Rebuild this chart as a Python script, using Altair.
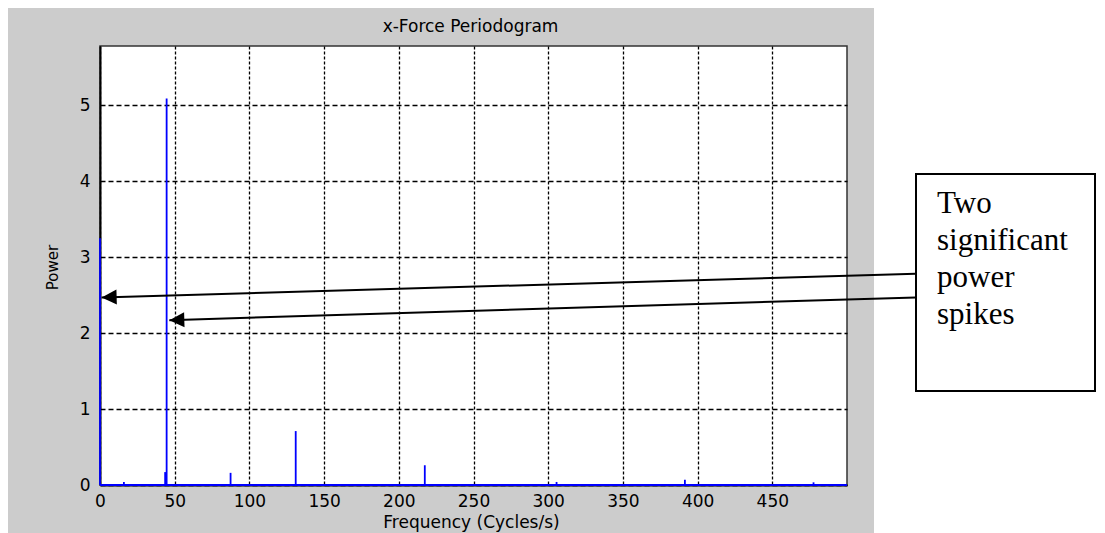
import altair as alt
import pandas as pd

# ---- data ----
freq_hz = [0, 16, 43.6, 44.6, 87.4, 131, 217.4, 305.6, 391.5, 477.6]
power = [3.25, 0.04, 0.17, 5.09, 0.16, 0.71, 0.26, 0.04, 0.07, 0.035]
baseline_freq = [0, 500]
x_ticks = [0, 50, 100, 150, 200, 250, 300, 350, 400, 450]
y_ticks = [0, 1, 2, 3, 4, 5]
arrow_tip_freq = [1.1, 46.4]
arrow_tip_power = [2.47, 2.17]
arrow_tail_freq = [546, 546]
arrow_tail_power = [2.78, 2.47]
note_lines = ["Two", "significant", "power", "spikes"]
chart_title = "x-Force Periodogram"

W, H = 747, 439
FONT = "DejaVu Sans"

spikes = pd.DataFrame({"freq": freq_hz, "power": power})
base = pd.DataFrame({"freq": [baseline_freq[0]], "freq2": [baseline_freq[1]]})
arrows = pd.DataFrame({"freq": arrow_tip_freq, "power": arrow_tip_power,
                       "freq2": arrow_tail_freq, "power2": arrow_tail_power})

xs = alt.Scale(domain=[0, 500], nice=False, zero=False)
ys = alt.Scale(domain=[0, 5.78], nice=False, zero=False)

x_axis = alt.Axis(title="Frequency (Cycles/s)", values=x_ticks, format="d",
                  grid=True, gridColor="black", gridDash=[3, 2], gridWidth=1.3, gridOpacity=1,
                  ticks=False, labelPadding=8, labelFont=FONT, labelFontSize=17,
                  labelColor="black", domainColor="black", domainWidth=2,
                  titleFont=FONT, titleFontSize=17, titleFontWeight="normal", titleColor="black",
                  titleX=371, titleY=37, titleBaseline="middle", titleAlign="center",
                  labelFlush=False)
y_axis = alt.Axis(title="Power", values=y_ticks, format="d",
                  grid=True, gridColor="black", gridDash=[5, 3], gridWidth=1.3, gridOpacity=1,
                  ticks=False, labelPadding=10, labelFont=FONT, labelFontSize=17,
                  labelColor="black", domainColor="black", domainWidth=2,
                  titleFont=FONT, titleFontSize=15, titleFontWeight="normal", titleColor="black",
                  titleX=-48, titleY=221, titleAngle=270, titleBaseline="middle",
                  titleAlign="center", labelFlush=False)

one = alt.Data(values=[{}])

white_area = alt.Chart(one).mark_rect(color="white").encode(
    x=alt.value(774), x2=alt.value(1000), y=alt.value(-40), y2=alt.value(500))

title_text = alt.Chart(one).mark_text(
    text=chart_title, font=FONT, fontSize=17, color="black",
    align="center", baseline="alphabetic").encode(
    x=alt.value(W / 2 - 3), y=alt.value(-14))

spike_layer = alt.Chart(spikes).mark_rule(color="#0000ff", strokeWidth=1.8).encode(
    x=alt.X("freq:Q", scale=xs, axis=x_axis),
    y=alt.Y("power:Q", scale=ys, axis=y_axis),
    y2=alt.datum(0))

base_layer = alt.Chart(base).mark_rule(color="#0000ff", strokeWidth=2).encode(
    x=alt.X("freq:Q", scale=xs, axis=x_axis),
    x2="freq2:Q",
    y=alt.datum(0, scale=ys))

shaft = alt.Chart(arrows).mark_rule(color="black", strokeWidth=2).encode(
    x=alt.X("freq:Q", scale=xs, axis=x_axis),
    y=alt.Y("power:Q", scale=ys, axis=y_axis),
    x2="freq2:Q", y2="power2:Q")

heads = alt.Chart(arrows).mark_point(
    shape="M0,0L2,-1L2,1Z", filled=True, color="black", opacity=1, size=225,
    angle=358.35, strokeWidth=0).encode(
    x=alt.X("freq:Q", scale=xs, axis=x_axis),
    y=alt.Y("power:Q", scale=ys, axis=y_axis))

box = alt.Chart(one).mark_rect(fill="white", stroke="black", strokeWidth=2).encode(
    x=alt.value(816), x2=alt.value(995), y=alt.value(128), y2=alt.value(345))

note = alt.Chart(one).mark_text(
    text=note_lines, font="Liberation Serif", fontSize=31, lineHeight=37,
    align="left", baseline="alphabetic", color="black").encode(
    x=alt.value(837), y=alt.value(167))

chart = alt.layer(white_area, title_text, spike_layer, base_layer, shaft, heads, box, note).properties(
    width=W, height=H,
    padding={"left": 92, "top": 38, "right": 250, "bottom": 48},
    autosize=alt.AutoSizeParams(type="none"),
    background="#cccccc",
).configure_view(fill="white", stroke="#333333", strokeWidth=1.5)

chart.save("out.html", embed_options={"renderer": "svg", "actions": False})
